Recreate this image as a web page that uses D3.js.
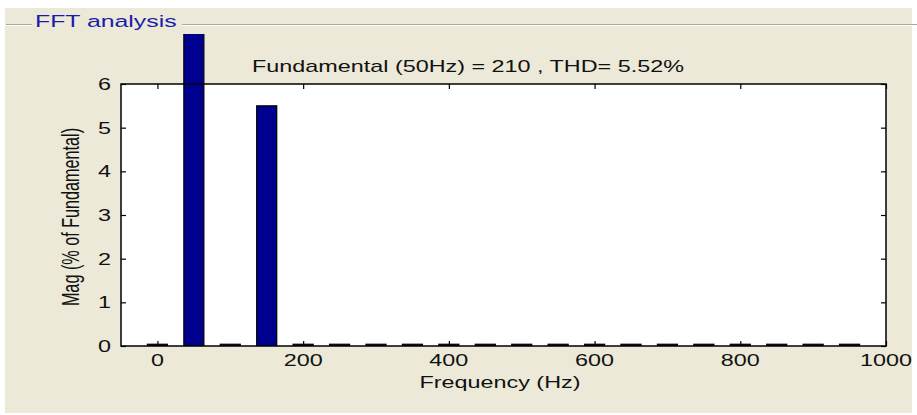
<!DOCTYPE html>
<html>
<head>
<meta charset="utf-8">
<script src="https://cdn.jsdelivr.net/npm/d3@7"></script>
<style>
  body { margin: 0; background: #fff; }
  svg { display: block; font-family: "Liberation Sans", Arial, sans-serif; }
</style>
</head>
<body>
<svg id="chart" width="917" height="415"></svg>
<script>
// harmonic frequencies (Hz) and magnitudes (% of fundamental)
var freqs = [0, 50, 100, 150, 200, 250, 300, 350, 400, 450, 500, 550, 600, 650, 700, 750, 800, 850, 900, 950];
var mags  = [0.04, 100, 0.04, 5.5, 0.04, 0.04, 0.04, 0.04, 0.04, 0.04, 0.04, 0.04, 0.04, 0.04, 0.04, 0.04, 0.04, 0.04, 0.04, 0.04];
var xTicks = [0, 200, 400, 600, 800, 1000];
var yTicks = [0, 1, 2, 3, 4, 5, 6];
var panelTitle = "FFT analysis";
var plotTitle = "Fundamental (50Hz) = 210 , THD= 5.52%";
var xLabel = "Frequency (Hz)";
var yLabel = "Mag (% of Fundamental)";

var svg = d3.select('#chart');
var sx = 1.46; // the old screenshot text is stretched sideways

// panel background
svg.append('rect').attr('x', 5).attr('y', 8).attr('width', 907).attr('height', 405).attr('fill', '#ece9d8');

// etched panel line with the title gap
svg.append('line').attr('x1', 6).attr('x2', 32).attr('y1', 24.5).attr('y2', 24.5).attr('stroke', '#aca899');
svg.append('line').attr('x1', 182).attr('x2', 917).attr('y1', 24.5).attr('y2', 24.5).attr('stroke', '#aca899');
svg.append('line').attr('x1', 6).attr('x2', 32).attr('y1', 25.5).attr('y2', 25.5).attr('stroke', '#fff');
svg.append('line').attr('x1', 182).attr('x2', 917).attr('y1', 25.5).attr('y2', 25.5).attr('stroke', '#fff');
svg.append('text')
  .attr('transform', 'translate(35,27) scale(' + sx + ',1)')
  .attr('font-size', 17).attr('fill', '#1c1caa')
  .text(panelTitle);

var pLeft = 121, pRight = 886, pTop = 84, pBottom = 346;

var x = d3.scaleLinear().domain([-50, 1000]).range([pLeft, pRight]);
var y = d3.scaleLinear().domain([0, 6]).range([pBottom, pTop]);

// axes area
svg.append('rect').attr('x', pLeft).attr('y', pTop).attr('width', pRight - pLeft).attr('height', pBottom - pTop).attr('fill', '#fff');

// bars run over the top of the axes, cut off by the panel
svg.append('clipPath').attr('id', 'clip')
  .append('rect').attr('x', pLeft).attr('y', 34).attr('width', pRight - pLeft).attr('height', pBottom - 34);

var bw = 0.55 * (x(50) - x(0));
svg.append('g').attr('clip-path', 'url(#clip)')
  .selectAll('rect')
  .data(freqs)
  .enter()
  .append('rect')
  .attr('x', function(d) { return x(d) - bw / 2; })
  .attr('y', function(d, i) { return y(mags[i]); })
  .attr('width', bw)
  .attr('height', function(d, i) { return pBottom - y(mags[i]); })
  .attr('fill', '#00008e')
  .attr('stroke', '#000')
  .attr('stroke-width', 1.2);

// axes with inward ticks on all four sides
var tl = 5;
svg.append('g').attr('transform', 'translate(0,' + pBottom + ')')
  .call(d3.axisBottom(x).tickValues(xTicks).tickSize(-tl).tickFormat(''))
  .call(function(g) { g.select('.domain').remove(); });
svg.append('g').attr('transform', 'translate(0,' + pTop + ')')
  .call(d3.axisTop(x).tickValues(xTicks).tickSize(-tl).tickFormat(''))
  .call(function(g) { g.select('.domain').remove(); });
svg.append('g').attr('transform', 'translate(' + pLeft + ',0)')
  .call(d3.axisLeft(y).tickValues(yTicks).tickSize(-tl).tickFormat(''))
  .call(function(g) { g.select('.domain').remove(); });
svg.append('g').attr('transform', 'translate(' + pRight + ',0)')
  .call(d3.axisRight(y).tickValues(yTicks).tickSize(-tl).tickFormat(''))
  .call(function(g) { g.select('.domain').remove(); });
svg.selectAll('.tick line').attr('stroke', '#000').attr('stroke-width', 1.2);

svg.append('rect').attr('x', pLeft).attr('y', pTop).attr('width', pRight - pLeft).attr('height', pBottom - pTop)
  .attr('fill', 'none').attr('stroke', '#000').attr('stroke-width', 1.5);

// tick labels
svg.selectAll('.xlab').data(xTicks).enter().append('text')
  .attr('transform', function(d) { return 'translate(' + x(d) + ',366) scale(' + sx + ',1)'; })
  .attr('text-anchor', 'middle').attr('font-size', 16).attr('fill', '#111')
  .text(function(d) { return d; });
svg.selectAll('.ylab').data(yTicks).enter().append('text')
  .attr('transform', function(d) { return 'translate(111,' + (y(d) + 6) + ') scale(' + sx + ',1)'; })
  .attr('text-anchor', 'end').attr('font-size', 16).attr('fill', '#111')
  .text(function(d) { return d; });

// titles
svg.append('text')
  .attr('transform', 'translate(468,72) scale(' + sx + ',1)')
  .attr('text-anchor', 'middle').attr('font-size', 16).attr('fill', '#111')
  .text(plotTitle);
svg.append('text')
  .attr('transform', 'translate(500,388) scale(' + sx + ',1)')
  .attr('text-anchor', 'middle').attr('font-size', 16).attr('fill', '#111')
  .text(xLabel);
svg.append('text')
  .attr('transform', 'translate(79,' + ((pTop + pBottom) / 2 + 2) + ') scale(' + sx + ',1) rotate(-90)')
  .attr('text-anchor', 'middle').attr('font-size', 16.2).attr('fill', '#111')
  .text(yLabel);
</script>
</body>
</html>
